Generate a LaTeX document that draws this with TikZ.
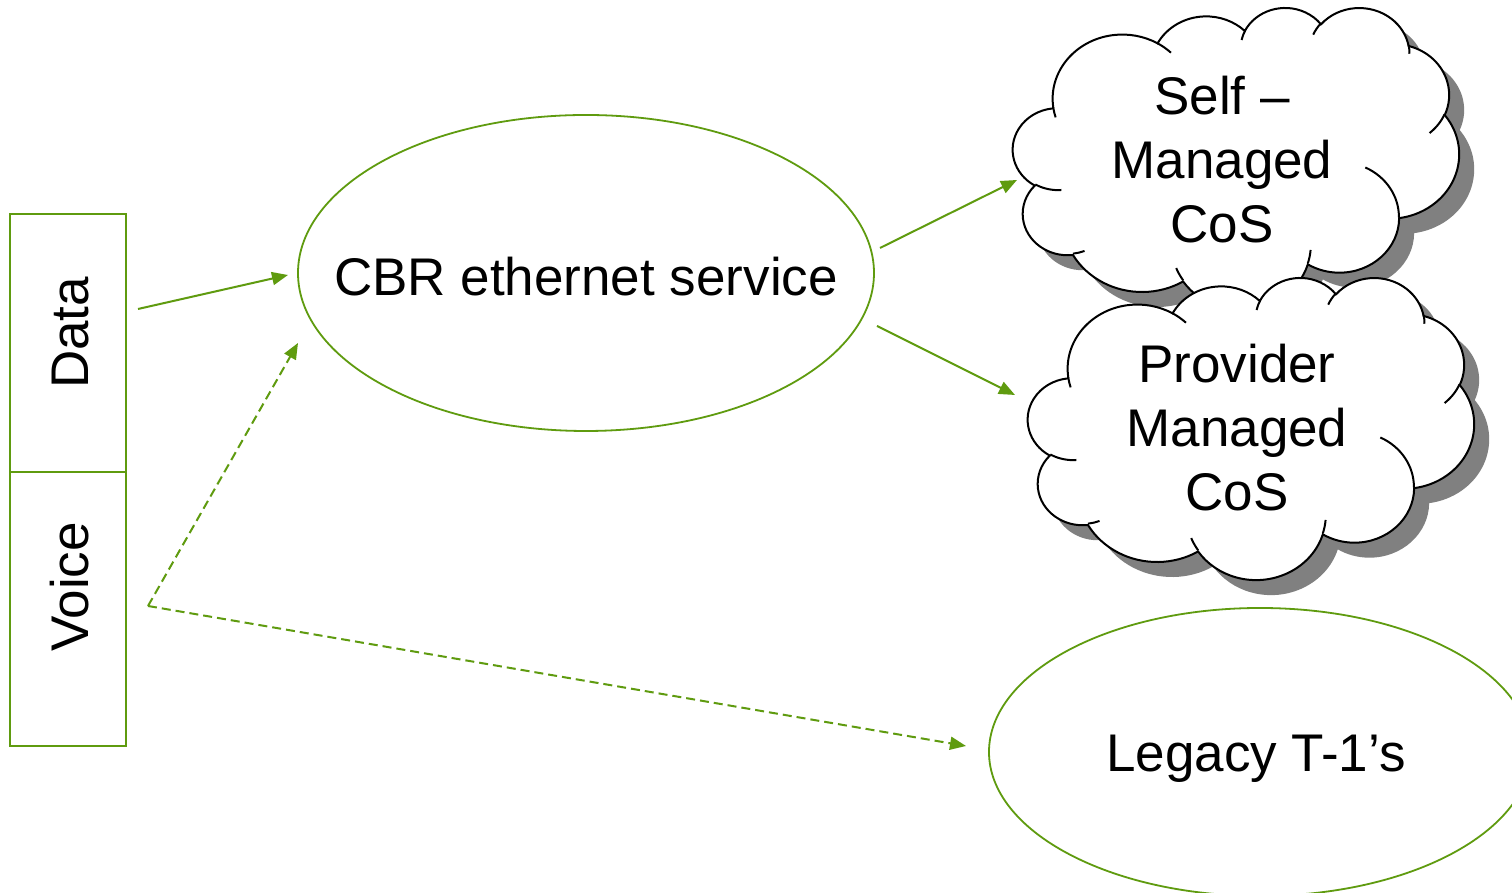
\documentclass[tikz,border=0pt]{standalone}
\usepackage{fontspec}
\setmainfont{Liberation Sans}
\usetikzlibrary{arrows.meta,shapes.geometric}
\definecolor{grn}{RGB}{95,155,15}
\definecolor{shd}{RGB}{128,128,128}
% parametric start/end angles of an OOXML arcTo (visual angles in degrees)
\newcommand\mkarc[5]{%
  \pgfmathsetmacro\tmpa{(#4) + mod(atan2(#2*sin(#4), #3*cos(#4)) - (#4) + 540, 360) - 180}%
  \pgfmathsetmacro\tmpb{(#4+#5) + mod(atan2(#2*sin(#4+#5), #3*cos(#4+#5)) - (#4+#5) + 540, 360) - 180}%
  \expandafter\xdef\csname cq#1\endcsname{\tmpa}%
  \expandafter\xdef\csname cw#1\endcsname{\tmpb}}
\mkarc{A}{6.753}{9.190}{-190.4875}{123.7805}
\mkarc{B}{5.333}{7.267}{-144.1024}{89.9452}
\mkarc{C}{4.365}{5.945}{-145.8079}{99.7230}
\mkarc{D}{4.857}{6.595}{-130.9861}{117.2417}
\mkarc{E}{5.333}{7.273}{-78.7089}{109.0269}
\mkarc{F}{6.775}{9.220}{-46.2673}{130.2690}
\mkarc{G}{5.785}{7.867}{0.6250}{114.0333}
\mkarc{H}{6.752}{9.215}{22.4516}{115.1726}
\mkarc{I}{7.720}{10.543}{66.2426}{75.7110}
\mkarc{J}{4.360}{5.918}{-274.9421}{146.7356}
\mkarc{K}{4.345}{5.945}{-246.8285}{152.5189}
\mkarc{a}{4.345}{5.945}{86.7420}{26.4295}
\mkarc{b}{4.360}{5.918}{73.6105}{11.4475}
\mkarc{c}{6.752}{9.215}{137.6242}{14.0811}
\mkarc{d}{6.752}{9.215}{6.4533}{15.9984}
\mkarc{e}{5.785}{7.867}{-70.2924}{70.9174}
\mkarc{f}{5.333}{7.273}{30.3180}{27.7515}
\mkarc{g}{4.857}{6.595}{-13.7443}{14.8547}
\mkarc{h}{4.857}{6.595}{-149.1815}{18.1954}
\mkarc{i}{4.365}{5.945}{-163.4943}{17.6954}
\mkarc{j}{6.753}{9.190}{-66.7070}{12.3194}
\mkarc{k}{6.753}{9.190}{157.6544}{11.8582}
\def\cloudmain{(3.9,14.37)
 arc[start angle=\cqA, end angle=\cwA, x radius=6.753, y radius=9.190]
 arc[start angle=\cqB, end angle=\cwB, x radius=5.333, y radius=7.267]
 arc[start angle=\cqC, end angle=\cwC, x radius=4.365, y radius=5.945]
 arc[start angle=\cqD, end angle=\cwD, x radius=4.857, y radius=6.595]
 arc[start angle=\cqE, end angle=\cwE, x radius=5.333, y radius=7.273]
 arc[start angle=\cqF, end angle=\cwF, x radius=6.775, y radius=9.220]
 arc[start angle=\cqG, end angle=\cwG, x radius=5.785, y radius=7.867]
 arc[start angle=\cqH, end angle=\cwH, x radius=6.752, y radius=9.215]
 arc[start angle=\cqI, end angle=\cwI, x radius=7.720, y radius=10.543]
 arc[start angle=\cqJ, end angle=\cwJ, x radius=4.360, y radius=5.918]
 arc[start angle=\cqK, end angle=\cwK, x radius=4.345, y radius=5.945]
 -- cycle}
\def\cloudinner{
 (4.693,26.177) arc[start angle=\cqa, end angle=\cwa, x radius=4.345, y radius=5.945]
 (6.928,34.899) arc[start angle=\cqb, end angle=\cwb, x radius=4.360, y radius=5.918]
 (16.478,39.090) arc[start angle=\cqc, end angle=\cwc, x radius=6.752, y radius=9.215]
 (28.827,34.751) arc[start angle=\cqd, end angle=\cwd, x radius=6.752, y radius=9.215]
 (34.129,22.954) arc[start angle=\cqe, end angle=\cwe, x radius=5.785, y radius=7.867]
 (41.798,15.354) arc[start angle=\cqf, end angle=\cwf, x radius=5.333, y radius=7.273]
 (38.324,5.426) arc[start angle=\cqg, end angle=\cwg, x radius=4.857, y radius=6.595]
 (29.078,3.952) arc[start angle=\cqh, end angle=\cwh, x radius=4.857, y radius=6.595]
 (22.141,4.720) arc[start angle=\cqi, end angle=\cwi, x radius=4.365, y radius=5.945]
 (14.000,5.192) arc[start angle=\cqj, end angle=\cwj, x radius=6.753, y radius=9.190]
 (4.127,15.789) arc[start angle=\cqk, end angle=\cwk, x radius=6.753, y radius=9.190]}
\tikzset{
  big/.style={font=\fontsize{26.5}{32}\selectfont, inner sep=0pt},
  gbox/.style={draw=grn, line width=0.9pt, minimum width=58pt, inner sep=0pt},
  gell/.style={ellipse, draw=grn, line width=0.9pt, inner sep=0pt},
  conn/.style={draw=grn, line width=1pt, -{Triangle[length=8pt,width=6.5pt]}},
  dconn/.style={conn, dash pattern=on 4.5pt off 2.5pt},
  cloudline/.style={draw=black, line width=1pt, fill=white},
  cloudbox/.style={xscale=10.324, yscale=-6.991},
}
\begin{document}
\begin{tikzpicture}[x=0.5pt,y=0.5pt]
\useasboundingbox (0,0) rectangle (1512,893);
\clip (0,0) rectangle (1512,893);
\fill[white] (0,0) rectangle (1512,893);
% left boxes
\node[gbox, minimum height=129pt] (data) at (68,550) {};
\node[gbox, minimum height=137pt] (voice) at (68,284) {};
\node[big, rotate=90, anchor=base] (datat) at (88,560) {Data};
\node[big, rotate=90, anchor=base] (voicet) at (88,306) {Voice};
% ellipses
\node[gell, minimum width=288pt, minimum height=158pt] (cbr) at (586,620) {};
\node[big, anchor=base] (cbrt) at (586,597) {CBR ethernet service};
\node[gell, minimum width=271pt, minimum height=144pt] (legacy) at (1260,141) {};
\node[big, anchor=base] (legacyt) at (1256,121) {Legacy T-1’s};
% self managed cloud
\begin{scope}[shift={(1028,871)}, cloudbox]
  \fill[shd] \cloudmain;
\end{scope}
\begin{scope}[shift={(1013,886)}, cloudbox]
  \path[cloudline] \cloudmain;
  \draw[line width=1pt] \cloudinner;
\end{scope}
\node[big, align=center] (self) at (1222,733) {Self –\\Managed\\CoS};
% provider managed cloud
\begin{scope}[shift={(1043,601)}, cloudbox]
  \fill[shd] \cloudmain;
\end{scope}
\begin{scope}[shift={(1028,616)}, cloudbox]
  \path[cloudline] \cloudmain;
  \draw[line width=1pt] \cloudinner;
\end{scope}
\node[big, align=center] (prov) at (1237,465) {Provider\\Managed\\CoS};
% connector end points
\coordinate (a1s) at (138,584);
\coordinate (a1e) at (288,618);
\coordinate (vs) at (148,287);
\coordinate (a2e) at (298,550);
\coordinate (a3e) at (966,147);
\coordinate (a4s) at (880,645);
\coordinate (a4e) at (1017,713);
\coordinate (a5s) at (877,567);
\coordinate (a5e) at (1015,498);
\draw[conn] (a1s) -- (a1e);
\draw[dconn] (vs) -- (a2e);
\draw[dconn] (vs) -- (a3e);
\draw[conn] (a4s) -- (a4e);
\draw[conn] (a5s) -- (a5e);
\end{tikzpicture}
\end{document}
